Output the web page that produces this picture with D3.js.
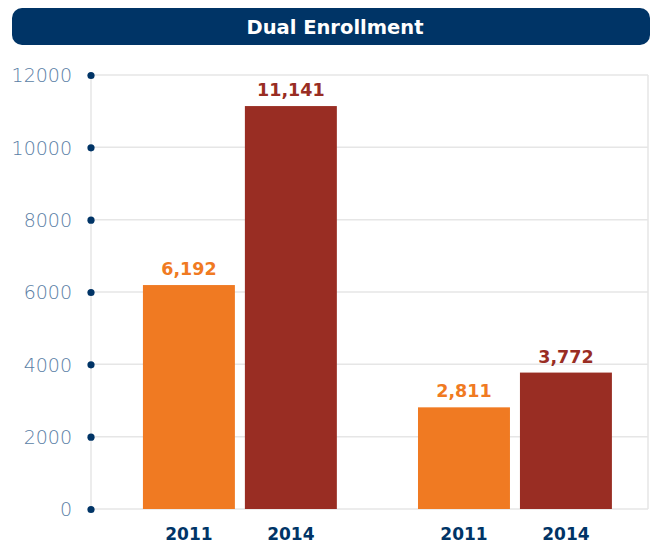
<!DOCTYPE html>
<html>
<head>
<meta charset="utf-8">
<script src="https://cdn.jsdelivr.net/npm/d3@7"></script>
<style>
  body { margin: 0; background: #fff; }
  svg { display: block; }
</style>
</head>
<body>
<svg id="chart" width="651" height="546"></svg>
<script>
// chart data
const title = "Dual Enrollment";
const groups = ["Group A", "Group B"];
const years = ["2011", "2014"];
const groupA = [6192, 11141];
const groupB = [2811, 3772];
const yTicks = [0, 2000, 4000, 6000, 8000, 10000, 12000];
const yearColors = ["#f07a22", "#992d23"];

const svg = d3.select("#chart");
const plotLeft = 91, plotRight = 648, plotTop = 75, plotBottom = 509;
const font = "'DejaVu Sans', Verdana, sans-serif";

// title bar
svg.append("rect")
  .attr("x", 12).attr("y", 8)
  .attr("width", 638).attr("height", 37)
  .attr("rx", 10).attr("ry", 10)
  .attr("fill", "#003466");

svg.append("text")
  .attr("x", 335).attr("y", 34)
  .attr("text-anchor", "middle")
  .attr("fill", "white")
  .attr("font-family", font)
  .attr("font-weight", "bold")
  .attr("font-size", "19.5px")
  .text(title);

const y = d3.scaleLinear().domain([0, 12000]).range([plotBottom, plotTop]);

const x0 = d3.scaleBand().domain(groups).range([plotLeft, plotRight])
  .paddingInner(0.295).paddingOuter(0.16).align(0.59);
const x1 = d3.scaleBand().domain(years).range([0, x0.bandwidth()])
  .paddingInner(0.098).paddingOuter(0);

// grid lines
let grid = svg.append("g");
grid.selectAll("line")
  .data(yTicks)
  .enter().append("line")
  .attr("x1", plotLeft).attr("x2", plotRight)
  .attr("y1", d => y(d)).attr("y2", d => y(d))
  .attr("stroke", "#e6e6e6")
  .attr("stroke-width", 1.5);

grid.append("line")
  .attr("x1", plotLeft).attr("x2", plotLeft)
  .attr("y1", plotTop).attr("y2", plotBottom)
  .attr("stroke", "#e6e6e6").attr("stroke-width", 1.5);
grid.append("line")
  .attr("x1", plotRight).attr("x2", plotRight)
  .attr("y1", plotTop).attr("y2", plotBottom)
  .attr("stroke", "#e6e6e6").attr("stroke-width", 1.5);

// y axis
const yAxis = d3.axisLeft(y).tickValues(yTicks).tickSize(0).tickPadding(19)
  .tickFormat(d3.format("d"));
let axis = svg.append("g")
  .attr("transform", `translate(${plotLeft},0)`)
  .call(yAxis);
axis.select(".domain").remove();
axis.selectAll("text")
  .attr("fill", "#5a7ea5")
  .attr("font-family", font)
  .attr("font-weight", 200)
  .attr("font-size", "19px")
  .attr("dy", "0.36em");
axis.selectAll(".tick").append("circle")
  .attr("r", 3.6)
  .attr("fill", "#003466");

// bars
const series = [groupA, groupB];
let chart = svg.append("g");
const gs = chart.selectAll("g.group")
  .data(groups)
  .enter().append("g")
  .attr("class", "group")
  .attr("transform", d => `translate(${x0(d)},0)`);

gs.selectAll("rect")
  .data((g, gi) => years.map((yr, i) => ({ yr: yr, i: i, v: series[gi][i] })))
  .enter().append("rect")
  .attr("x", d => x1(d.yr))
  .attr("y", d => y(d.v))
  .attr("width", x1.bandwidth())
  .attr("height", d => y(0) - y(d.v))
  .attr("fill", d => yearColors[d.i]);

gs.selectAll("text.val")
  .data((g, gi) => years.map((yr, i) => ({ yr: yr, i: i, v: series[gi][i] })))
  .enter().append("text")
  .attr("class", "val")
  .attr("x", d => x1(d.yr) + x1.bandwidth() / 2)
  .attr("y", d => y(d.v) - 10)
  .attr("text-anchor", "middle")
  .attr("fill", d => yearColors[d.i])
  .attr("font-family", font)
  .attr("font-weight", "bold")
  .attr("font-size", "17.5px")
  .text(d => d3.format(",")(d.v));

gs.selectAll("text.cat")
  .data(years)
  .enter().append("text")
  .attr("class", "cat")
  .attr("x", d => x1(d) + x1.bandwidth() / 2)
  .attr("y", 540)
  .attr("text-anchor", "middle")
  .attr("fill", "#003466")
  .attr("font-family", font)
  .attr("font-weight", "bold")
  .attr("font-size", "17px")
  .text(d => d);
</script>
</body>
</html>
